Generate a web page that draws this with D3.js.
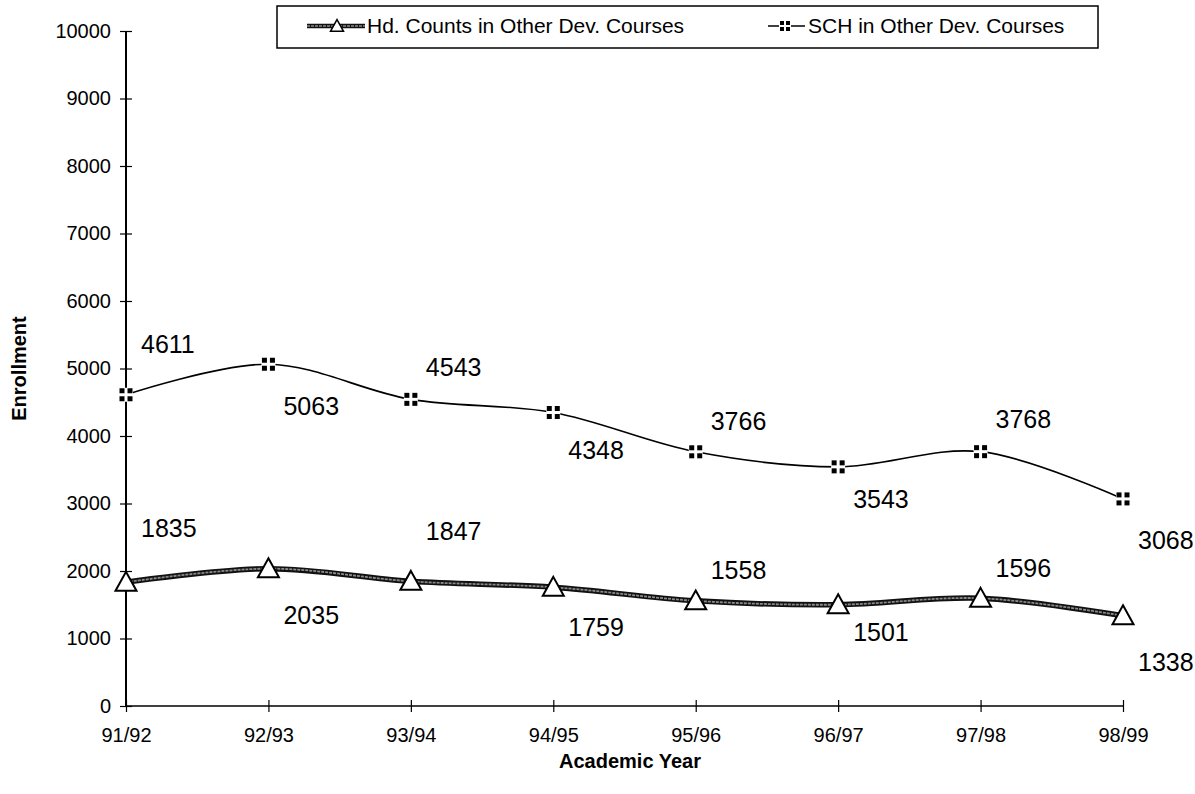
<!DOCTYPE html>
<html>
<head>
<meta charset="utf-8">
<script src="https://cdn.jsdelivr.net/npm/d3@7"></script>
<style>
  html, body { margin: 0; padding: 0; background: #fff; }
  svg { display: block; font-family: "Liberation Sans", Arial, Helvetica, sans-serif; }
</style>
</head>
<body>
<svg id="chart" width="1195" height="794"></svg>
<script>
// ---- data ----
const years = ["91/92", "92/93", "93/94", "94/95", "95/96", "96/97", "97/98", "98/99"];
const hdCounts = [1835, 2035, 1847, 1759, 1558, 1501, 1596, 1338];
const schValues = [4611, 5063, 4543, 4348, 3766, 3543, 3768, 3068];
const yTicks = [0, 1000, 2000, 3000, 4000, 5000, 6000, 7000, 8000, 9000, 10000];
const seriesNames = ["Hd. Counts in Other Dev. Courses", "SCH in Other Dev. Courses"];
const xTitle = "Academic Year";
const yTitle = "Enrollment";

// ---- layout (label placement offsets, pixels) ----
const hdLabelDy = [-45, 55, -41, 49, -22, 36, -21, 55];
const schLabelDy = [-42, 51, -23, 46, -22, 41, -24, 50];
const labelDx = 15;

const svg = d3.select("#chart");
const x = d3.scalePoint().domain(years).range([126, 1123]);
const y = d3.scaleLinear().domain([0, 10000]).range([706, 31]);

// axes
const yAxis = svg.append("g")
  .attr("transform", `translate(${x(years[0])},0)`)
  .call(d3.axisLeft(y).tickValues(yTicks).tickSize(6).tickPadding(9).tickFormat(d3.format("d")));
yAxis.selectAll(".tick line").attr("x1", -6).attr("x2", 6).attr("stroke", "#000").attr("stroke-width", 1.2);
yAxis.select(".domain").attr("d", `M0,${y(0)}V${y(10000)}`).attr("stroke", "#000").attr("stroke-width", 2);
yAxis.selectAll(".tick text").attr("font-size", 20).attr("fill", "#000").attr("font-family", null);

const xAxis = svg.append("g")
  .attr("transform", `translate(0,${y(0)})`)
  .call(d3.axisBottom(x).tickSize(6).tickPadding(16));
xAxis.selectAll(".tick line").attr("y1", -6).attr("y2", 6).attr("stroke", "#000").attr("stroke-width", 1.2);
xAxis.select(".domain").attr("d", `M${x(years[0])},0H${x(years[years.length - 1])}`).attr("stroke", "#000").attr("stroke-width", 1.5);
xAxis.selectAll(".tick text").attr("font-size", 20).attr("fill", "#000").attr("font-family", null);

// axis titles
svg.append("text")
  .attr("transform", `translate(26,${(y(0) + y(10000)) / 2}) rotate(-90)`)
  .attr("text-anchor", "middle")
  .attr("font-size", 20).attr("font-weight", "bold")
  .text(yTitle);
svg.append("text")
  .attr("x", 630)
  .attr("y", 768)
  .attr("text-anchor", "middle")
  .attr("font-size", 20).attr("font-weight", "bold")
  .text(xTitle);

// lines
const line = d3.line().x((d, i) => x(years[i])).y(d => y(d)).curve(d3.curveCatmullRom.alpha(0.5));

svg.append("path").datum(schValues).attr("d", line)
  .attr("fill", "none").attr("stroke", "#000").attr("stroke-width", 1.6);

svg.append("path").datum(hdCounts).attr("d", line)
  .attr("fill", "none").attr("stroke", "#111").attr("stroke-width", 5.5);
svg.append("path").datum(hdCounts).attr("d", line)
  .attr("fill", "none").attr("stroke", "#8a8a8a").attr("stroke-width", 1.8).attr("stroke-dasharray", "3,1");

// markers
function trianglePath(cx, cy, w) {
  const h = w * 0.9;
  return `M${cx},${cy - h * 0.55}L${cx + w / 2},${cy + h * 0.45}L${cx - w / 2},${cy + h * 0.45}Z`;
}
function drawSquares(g, cx, cy, s, gap) {
  const off = [[-1, -1], [1, -1], [-1, 1], [1, 1]];
  off.forEach(([a, b]) => {
    g.append("rect")
      .attr("x", cx + (a < 0 ? -gap / 2 - s : gap / 2))
      .attr("y", cy + (b < 0 ? -gap / 2 - s : gap / 2))
      .attr("width", s).attr("height", s).attr("fill", "#000");
  });
}

const schG = svg.append("g");
schValues.forEach((v, i) => {
  schG.append("rect").attr("x", x(years[i]) - 7).attr("y", y(v) - 7).attr("width", 14).attr("height", 14).attr("fill", "#fff");
  drawSquares(schG, x(years[i]), y(v), 5, 3);
});

svg.append("g").selectAll("path").data(hdCounts).join("path")
  .attr("d", (d, i) => trianglePath(x(years[i]), y(d), 21))
  .attr("fill", "#fff").attr("stroke", "#000").attr("stroke-width", 2);

// data labels
svg.append("g").selectAll("text").data(schValues).join("text")
  .attr("x", (d, i) => x(years[i]) + labelDx)
  .attr("y", (d, i) => y(d) + schLabelDy[i])
  .attr("font-size", 25).attr("fill", "#000")
  .text(d => d);
svg.append("g").selectAll("text").data(hdCounts).join("text")
  .attr("x", (d, i) => x(years[i]) + labelDx)
  .attr("y", (d, i) => y(d) + hdLabelDy[i])
  .attr("font-size", 25).attr("fill", "#000")
  .text(d => d);

// legend
const lg = svg.append("g");
lg.append("rect").attr("x", 277).attr("y", 6).attr("width", 821).attr("height", 42)
  .attr("fill", "#fff").attr("stroke", "#000").attr("stroke-width", 1.5);
const ly = 26;
lg.append("line").attr("x1", 307).attr("x2", 365).attr("y1", ly).attr("y2", ly).attr("stroke", "#111").attr("stroke-width", 4.5);
lg.append("line").attr("x1", 307).attr("x2", 365).attr("y1", ly).attr("y2", ly).attr("stroke", "#8a8a8a").attr("stroke-width", 1.5).attr("stroke-dasharray", "3,1");
lg.append("path").attr("d", trianglePath(337, ly, 13)).attr("fill", "#fff").attr("stroke", "#000").attr("stroke-width", 1.5);
lg.append("text").attr("x", 367).attr("y", ly + 7).attr("font-size", 21).text(seriesNames[0]);

lg.append("line").attr("x1", 768).attr("x2", 805).attr("y1", ly).attr("y2", ly).attr("stroke", "#000").attr("stroke-width", 1.5);
lg.append("rect").attr("x", 779).attr("y", ly - 6).attr("width", 12).attr("height", 12).attr("fill", "#fff");
drawSquares(lg, 785, ly, 4, 2);
lg.append("text").attr("x", 808).attr("y", ly + 7).attr("font-size", 21).text(seriesNames[1]);
</script>
</body>
</html>
